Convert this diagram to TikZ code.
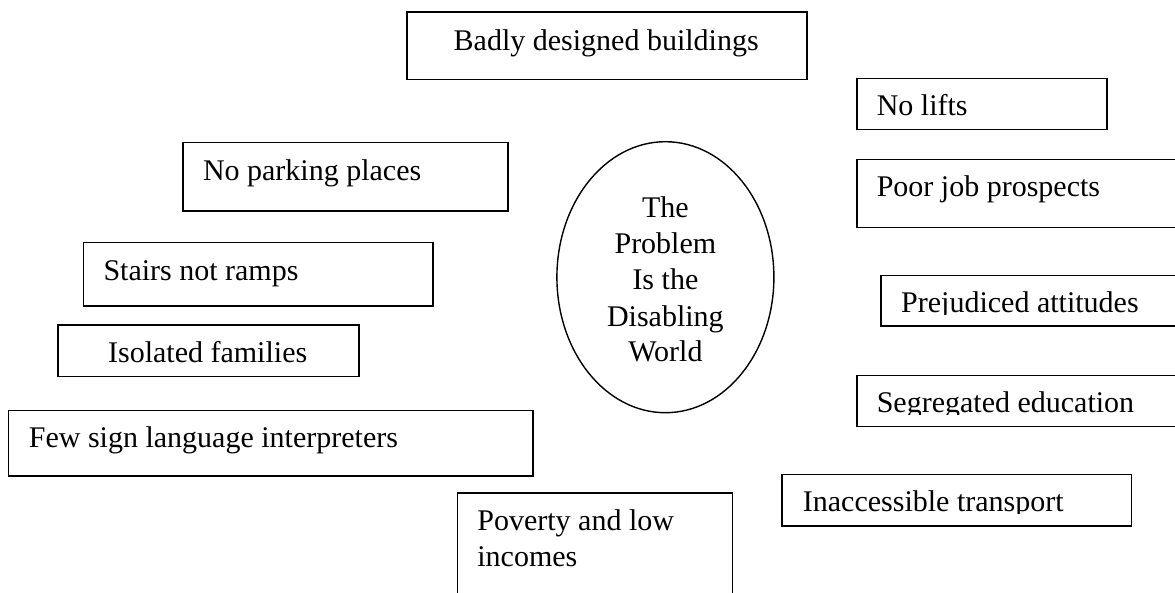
\documentclass[tikz,border=0pt]{standalone}
\usepackage{fontspec}
\setmainfont{Liberation Serif}
\usetikzlibrary{shapes.geometric}

% one unit = 1pt, y grows downwards
\tikzset{
  x=1pt, y=-1pt,
  barrier/.style={draw=black, line width=1.7pt, rectangle, inner sep=0pt,
                  anchor=north west},
  barriertext/.style={anchor=base west, inner sep=0pt,
                      font=\fontsize{30}{36}\selectfont},
  coretext/.style={anchor=base, inner sep=0pt,
                   font=\fontsize{30}{36}\selectfont},
  core/.style={draw=black, line width=1.4pt, ellipse, inner sep=0pt},
}

% \barrierbox{name}{left}{top}{right}{bottom}
\newcommand{\barrierbox}[5]{%
  \node[barrier, minimum width={#4-#2}, minimum height={#5-#3}] (#1) at (#2,#3) {};}

\begin{document}
\begin{tikzpicture}
\useasboundingbox (0,0) rectangle (1175,592);
\clip (0,0) rectangle (1175,592);

% central idea
\node[core, minimum width=217pt, minimum height=271pt] (core) at (665.4,277.2) {};
\node[coretext] (core1) at (665.4,217.3) {The};
\node[coretext] (core2) at (665.4,253.3) {Problem};
\node[coretext] (core3) at (665.4,289.0) {Is the};
\node[coretext] (core4) at (665.4,326.0) {Disabling};
\node[coretext] (core5) at (665.4,361.5) {World};

% barriers
\barrierbox{badly}{406.4}{11}{806}{78.7}
\node[barriertext] (badlyt) at (453.5,50) {Badly designed buildings};

\barrierbox{lifts}{855.9}{77.7}{1105.8}{128.7}
\node[barriertext] (liftst) at (876.6,115) {No lifts};

\barrierbox{parking}{182.2}{141.7}{507.4}{210}
\node[barriertext] (parkingt) at (202.8,180) {No parking places};

\barrierbox{jobs}{855.9}{158.7}{1195}{226.7}
\node[barriertext] (jobst) at (876.6,196.7) {Poor job prospects};

\barrierbox{stairs}{82.7}{241.7}{432.4}{305.3}
\node[barriertext] (stairst) at (103.3,280) {Stairs not ramps};

\barrierbox{prejudice}{880.4}{274.7}{1195}{325.3}
\begin{scope}
  \clip (880,270) rectangle (1175,314.2);
  \node[barriertext] (prejudicet) at (901,312.7) {Prejudiced attitudes};
\end{scope}

\barrierbox{isolated}{57.4}{324.3}{357.8}{375.7}
\node[barriertext] (isolatedt) at (107.9,362.7) {Isolated families};

\barrierbox{segregated}{855.9}{374.7}{1195}{425.7}
\begin{scope}
  \clip (855,370) rectangle (1175,414.2);
  \node[barriertext] (segregatedt) at (876.6,412.7) {Segregated education};
\end{scope}

\barrierbox{signing}{7.7}{409.7}{531.9}{475.3}
\node[barriertext] (signingt) at (28.7,447.3) {Few sign language interpreters};

\barrierbox{transport}{780.9}{473.7}{1130.7}{525}
\begin{scope}
  \clip (780,470) rectangle (1131,513.2);
  \node[barriertext] (transportt) at (802.7,511.7) {Inaccessible transport};
\end{scope}

\barrierbox{poverty}{456.6}{492.3}{731.5}{610}
\node[barriertext] (poverty1) at (477.2,530) {Poverty and low};
\node[barriertext] (poverty2) at (477.2,566.7) {incomes};

\end{tikzpicture}
\end{document}
